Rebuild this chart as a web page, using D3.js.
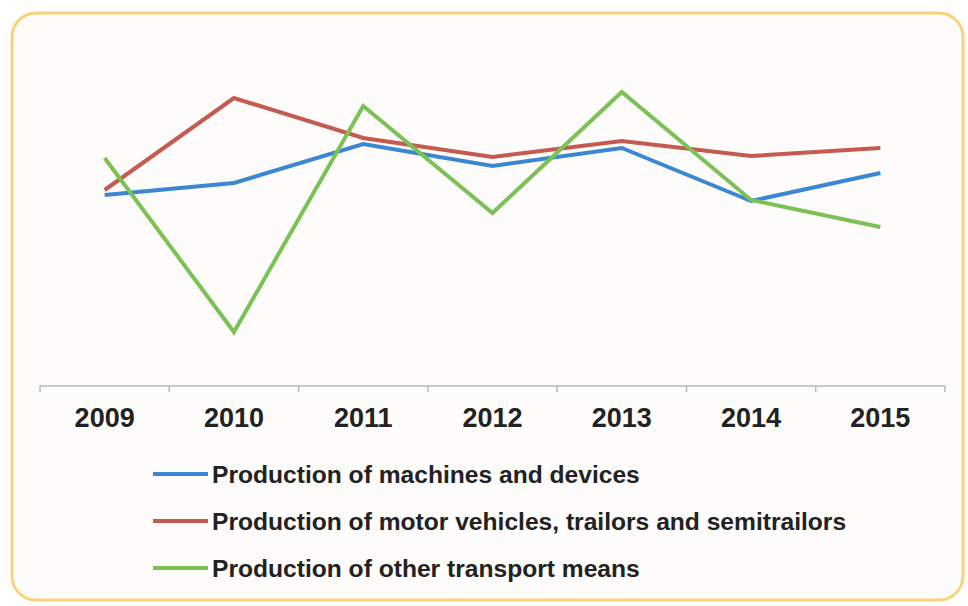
<!DOCTYPE html>
<html>
<head>
<meta charset="utf-8">
<script src="https://cdn.jsdelivr.net/npm/d3@7"></script>
<style>
  body { margin: 0; background: #fff; }
  svg { display: block; }
</style>
</head>
<body>
<div id="chart"></div>
<script>
// data (relative index, no y axis shown)
var years = ["2009", "2010", "2011", "2012", "2013", "2014", "2015"];
var machines = [95.5, 101.5, 121, 110, 119, 92.5, 106.5];
var motorVehicles = [98, 144, 124, 114.5, 122.5, 115, 119];
var otherTransport = [114, 27, 140, 86.5, 147, 93, 79.5];
var seriesNames = [
  "Production of machines and devices",
  "Production of motor vehicles, trailors and semitrailors",
  "Production of other transport means"
];
var seriesColors = ["#3b87d3", "#c45a50", "#7cc155"];

var width = 968, height = 606;

var svg = d3.select("#chart").append("svg")
    .attr("width", width)
    .attr("height", height);

// frame
svg.append("rect")
    .attr("x", 12).attr("y", 13)
    .attr("width", 951).attr("height", 587)
    .attr("rx", 24).attr("ry", 24)
    .attr("fill", "#fdfcfa")
    .attr("stroke", "#f8d37c")
    .attr("stroke-width", 3);

var x = d3.scaleBand()
    .domain(years)
    .range([40, 945]);

var y = d3.scaleLinear()
    .domain([0, 150])
    .range([386, 86]);

// x axis
var axis = svg.append("g")
    .attr("transform", "translate(0,386)")
    .call(d3.axisBottom(x).tickSize(0).tickPadding(22));
axis.select(".domain").remove();
axis.append("line")
    .attr("x1", 40).attr("x2", 945)
    .attr("stroke", "#a9bccd").attr("stroke-width", 1.5);
axis.selectAll(".sep")
    .data(years.concat(["end"]))
    .enter().append("line")
    .attr("class", "sep")
    .attr("x1", function (d, i) { return 40 + i * x.step(); })
    .attr("x2", function (d, i) { return 40 + i * x.step(); })
    .attr("y1", 0).attr("y2", 6)
    .attr("stroke", "#a9bccd").attr("stroke-width", 1.5);
axis.selectAll(".tick text")
    .attr("font-family", "Liberation Sans, Arial, sans-serif")
    .attr("font-size", 27)
    .attr("font-weight", "bold")
    .attr("fill", "#222");

var line = d3.line()
    .x(function (d, i) { return x(years[i]) + x.bandwidth() / 2; })
    .y(function (d) { return y(d); });

var allSeries = [machines, motorVehicles, otherTransport];

svg.selectAll(".series")
    .data(allSeries)
    .enter().append("path")
    .attr("class", "series")
    .attr("d", line)
    .attr("fill", "none")
    .attr("stroke", function (d, i) { return seriesColors[i]; })
    .attr("stroke-width", 4)
    .attr("stroke-linejoin", "miter");

// legend
var legend = svg.append("g").selectAll("g")
    .data(seriesNames)
    .enter().append("g")
    .attr("transform", function (d, i) { return "translate(153," + (474 + i * 47) + ")"; });

legend.append("line")
    .attr("x1", 0).attr("x2", 55)
    .attr("stroke", function (d, i) { return seriesColors[i]; })
    .attr("stroke-width", 4);

legend.append("text")
    .attr("x", 59)
    .attr("dy", "0.35em")
    .attr("font-family", "Liberation Sans, Arial, sans-serif")
    .attr("font-size", 24.6)
    .attr("font-weight", "bold")
    .attr("fill", "#222")
    .text(function (d) { return d; });
</script>
</body>
</html>
